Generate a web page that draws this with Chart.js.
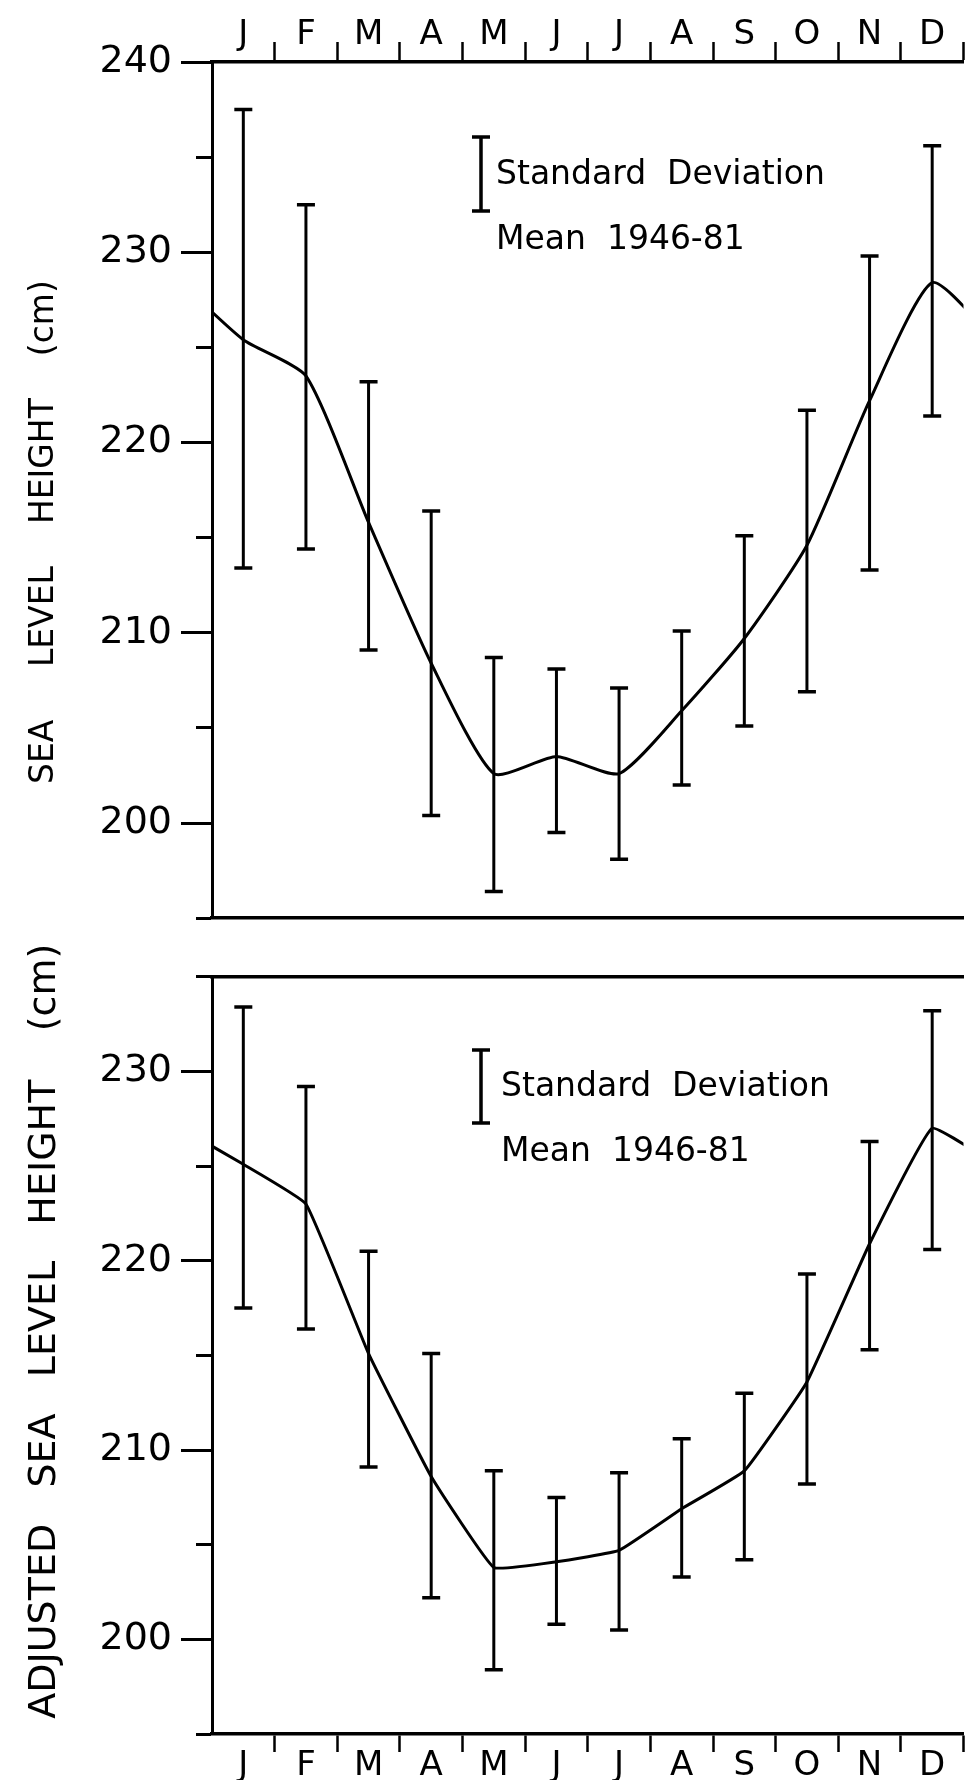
<!DOCTYPE html>
<html>
<head>
<meta charset="utf-8">
<script src="https://cdn.jsdelivr.net/npm/chart.js@4.4.0/dist/chart.umd.min.js"></script>
<style>
  html, body { margin: 0; padding: 0; background: #fff; overflow: hidden; }
  #wrap { position: relative; width: 965px; height: 1780px; overflow: hidden; background: #fff; }
  canvas { position: absolute; left: 0; }
  #top { top: 0; }
  #bottom { top: 945px; }
</style>
</head>
<body>
<div id="wrap">
  <canvas id="top" width="976" height="950"></canvas>
  <canvas id="bottom" width="976" height="835"></canvas>
</div>
<script>
const months = ['J', 'F', 'M', 'A', 'M', 'J', 'J', 'A', 'S', 'O', 'N', 'D'];

// sea level height (cm), monthly mean 1946-81 and mean +/- 1 sd
const seaMean = [225.4, 223.5, 215.8, 208.4, 202.6, 203.5, 202.6, 205.9, 209.7, 214.6, 222.2, 228.4];
const seaHigh = [237.5, 232.5, 223.2, 216.4, 208.7, 208.1, 207.1, 210.1, 215.1, 221.7, 229.8, 235.6];
const seaLow  = [213.4, 214.4, 209.1, 200.4, 196.4, 199.5, 198.1, 202.0, 205.1, 206.9, 213.3, 221.4];

// adjusted sea level height (cm)
const adjMean = [225.1, 223.0, 215.1, 208.6, 203.8, 204.1, 204.7, 206.9, 208.9, 213.6, 220.9, 227.0];
const adjHigh = [233.4, 229.2, 220.5, 215.1, 208.9, 207.5, 208.8, 210.6, 213.0, 219.3, 226.3, 233.2];
const adjLow  = [217.5, 216.4, 209.1, 202.2, 198.4, 200.8, 200.5, 203.3, 204.2, 208.2, 215.3, 220.6];

// labelled y ticks
const seaTicks = [200, 210, 220, 230, 240];
const adjTicks = [200, 210, 220, 230];

const FONT = 'DejaVu Sans';

// the curve is a yearly cycle, so pad with Dec before and Jan after
function meanPoints(mean) {
  let pts = mean.map((v, i) => ({x: i, y: v}));
  return [{x: -1, y: mean[mean.length - 1]}].concat(pts, [{x: mean.length, y: mean[0]}]);
}

// one segment per month, broken by a null point
function sdPoints(lo, hi) {
  let pts = [];
  lo.forEach((v, i) => {
    pts.push({x: i, y: v}, {x: i, y: hi[i]}, {x: i, y: null});
  });
  return pts;
}

// little "I Standard Deviation / Mean 1946-81" key inside the plot
const keyPlugin = {
  id: 'sdKey',
  afterDraw(chart, args, o) {
    const ctx = chart.ctx;
    ctx.save();
    ctx.strokeStyle = '#000';
    ctx.lineWidth = 3.5;
    ctx.beginPath();
    ctx.moveTo(o.x, o.y1); ctx.lineTo(o.x, o.y2);
    ctx.moveTo(o.x - 9, o.y1); ctx.lineTo(o.x + 9, o.y1);
    ctx.moveTo(o.x - 9, o.y2); ctx.lineTo(o.x + 9, o.y2);
    ctx.stroke();
    ctx.fillStyle = '#000';
    ctx.font = '33px "' + FONT + '"';
    ctx.textBaseline = 'middle';
    ctx.fillText('Standard  Deviation', o.tx, o.ty1);
    ctx.fillText('Mean  1946-81', o.tx, o.ty2);
    ctx.restore();
  }
};

function makeChart(id, opt) {
  const top = opt.monthsPos === 'top';
  return new Chart(document.getElementById(id), {
    type: 'line',
    data: {
      datasets: [{
        label: 'Mean 1946-81',
        data: meanPoints(opt.mean),
        borderColor: '#000',
        borderWidth: 3,
        pointRadius: 0,
        tension: opt.tension,
        xAxisID: 'x',
        yAxisID: 'y'
      }, {
        label: 'Standard Deviation',
        data: sdPoints(opt.low, opt.high),
        borderColor: '#000',
        borderWidth: 3,
        pointStyle: 'line',
        pointRadius: 9,
        pointBorderWidth: 3.5,
        pointBorderColor: '#000',
        spanGaps: false,
        tension: 0,
        xAxisID: 'x',
        yAxisID: 'y'
      }]
    },
    plugins: [keyPlugin],
    options: {
      responsive: false,
      animation: false,
      events: [],
      layout: { padding: 0 },
      scales: {
        x: { type: 'linear', axis: 'x', display: false, min: -0.5, max: 11.5 },
        months: {
          type: 'category',
          axis: 'x',
          labels: months,
          position: opt.monthsPos,
          offset: true,
          grid: {
            offset: true,
            drawOnChartArea: false,
            tickLength: opt.tickLen,
            tickWidth: 2.5,
            tickColor: c => c.index === 0 ? 'rgba(0,0,0,0)' : '#000'
          },
          border: { display: true, width: 3.5, color: '#000' },
          ticks: {
            color: '#000',
            font: { family: FONT, size: 34 },
            padding: opt.labelPad,
            maxRotation: 0,
            autoSkip: false
          },
          afterFit: s => { s.height = opt.monthsH; }
        },
        frame: {
          type: 'linear',
          axis: 'x',
          position: top ? 'bottom' : 'top',
          ticks: { display: false },
          grid: { display: false },
          border: { display: true, width: 3.5, color: '#000' },
          afterFit: s => { s.height = opt.frameH; }
        },
        y: {
          type: 'linear',
          position: 'left',
          min: opt.min,
          max: opt.max,
          ticks: {
            stepSize: 5,
            color: '#000',
            font: { family: FONT, size: 38 },
            padding: 9,
            callback: v => opt.ticks.includes(v) ? String(v) : ''
          },
          grid: {
            drawOnChartArea: false,
            tickLength: 31,
            tickWidth: 3,
            tickColor: '#000',
            // minor ticks (every 5) only half as long
            tickBorderDash: c => (c.tick && c.tick.value % 10) ? [15, 15] : [],
            tickBorderDashOffset: c => (c.tick && c.tick.value % 10) ? 15 : 0
          },
          border: { width: 3, color: '#000' },
          title: {
            display: true,
            text: opt.title,
            color: '#000',
            font: { family: FONT, size: opt.titleSize },
            padding: { top: opt.titlePad, bottom: 0 }
          },
          afterFit: s => { s.width = 212; }
        }
      },
      plugins: {
        legend: { display: false },
        tooltip: { enabled: false },
        sdKey: opt.key
      }
    }
  });
}

makeChart('top', {
  mean: seaMean, high: seaHigh, low: seaLow, ticks: seaTicks,
  min: 195, max: 240, tension: 0.2,
  monthsPos: 'top', monthsH: 62, tickLen: 20, labelPad: -14,
  frameH: 25,
  title: 'SEA     LEVEL    HEIGHT    (cm)        ',
  titleSize: 33, titlePad: 25,
  key: { x: 481, y1: 137, y2: 211, tx: 496, ty1: 175, ty2: 240 }
});

makeChart('bottom', {
  mean: adjMean, high: adjHigh, low: adjLow, ticks: adjTicks,
  min: 195, max: 235, tension: 0.1,
  monthsPos: 'bottom', monthsH: 46, tickLen: 18, labelPad: -6,
  frameH: 23,
  title: '    ADJUSTED   SEA   LEVEL   HEIGHT    (cm)',
  titleSize: 38, titlePad: 22,
  key: { x: 481, y1: 105, y2: 178, tx: 501, ty1: 142, ty2: 207 }
});
</script>
</body>
</html>
